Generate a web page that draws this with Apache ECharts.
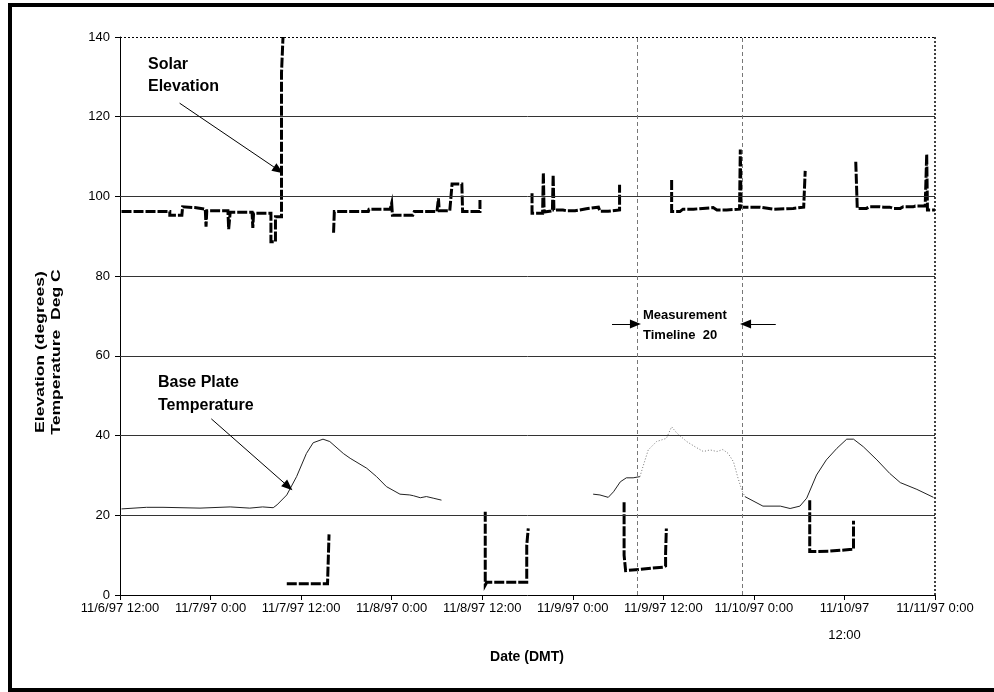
<!DOCTYPE html>
<html>
<head>
<meta charset="utf-8">
<script src="https://cdn.jsdelivr.net/npm/echarts@6/dist/echarts.min.js"></script>
<style>
  html, body { margin: 0; padding: 0; background: #fff; }
  #chart { width: 994px; height: 692px; }
</style>
</head>
<body>
<div id="chart"></div>
<script>
// hours counted from 11/6/97 0:00 (DMT)
var xMin = 12, xMax = 120, xStep = 12;
var yTicks = [20, 40, 60, 80, 100, 120];
var timelineHours = [80.6, 94.4];

// solar elevation, thick stepped trace, one array per unbroken run
var solarA = [[12.2,96.2],[18.6,96.2],[18.6,95.3],[20.2,95.3],[20.3,97.4],[21.9,97.2],[22.1,96.8],[23.3,96.8],[23.4,92.4],[23.5,96.4],[26.3,96.4],[26.4,91.8],[26.6,96.0],[29.5,96.0],[29.6,92.1],[29.7,95.8],[32.0,95.8],[32.0,88.6],[32.6,88.6],[32.6,94.9],[33.4,94.9],[33.4,130.9],[33.6,130.9],[33.6,140]];
var solarB = [[40.3,90.9],[40.4,96.2],[44.9,96.2],[45.0,96.8],[47.8,96.8],[48.0,98.3],[48.1,95.3],[50.8,95.3],[51.0,96.2],[54.0,96.2],[54.2,99.5],[54.3,96.4],[55.7,96.4],[56.0,103.1],[57.3,103.1],[57.4,96.2],[59.7,96.2],[59.7,99.1]];
var solarC = [[66.6,100.8],[66.6,95.8],[68.0,95.8],[68.1,106.0],[68.2,96.1],[69.3,96.4],[69.4,105.4],[69.5,96.6],[70.7,96.6],[71.2,96.4],[72.3,96.4],[72.5,96.9],[73.8,96.9],[74.0,97.3],[75.4,97.3],[75.6,96.3],[76.7,96.3],[76.9,96.6],[78.2,96.6],[78.2,102.9]];
var solarD = [[85.1,104.1],[85.1,96.2],[86.2,96.2],[86.6,96.8],[88.0,96.8],[88.2,97.2],[90.6,97.2],[91.1,96.6],[92.4,96.6],[92.6,96.8],[94.1,96.8],[94.2,111.8],[94.3,97.3],[96.8,97.3],[97.0,96.8],[98.6,96.8],[98.8,97.0],[101.2,97.0],[101.4,97.3],[102.6,97.3],[102.8,106.4]];
var solarE = [[109.5,108.7],[109.7,97.0],[110.9,97.0],[111.3,97.4],[112.7,97.4],[113.2,97.3],[114.0,97.3],[114.5,97.0],[115.4,97.0],[115.8,97.4],[117.1,97.4],[117.4,97.6],[118.7,97.6],[118.9,110.6],[119.0,96.6],[120,96.6]];

// low thick runs near the bottom
var lowA = [[34.1,2.8],[39.5,2.8],[39.6,3.3],[39.7,15.2]];
var lowB = [[60.4,20.9],[60.4,2.5],[60.6,3.2],[65.9,3.2],[65.9,12.5],[66.1,12.5],[66.1,16.7]];
var lowC = [[78.8,23.3],[78.8,10.0],[79.0,10.0],[79.0,6.1],[79.2,6.5],[84.0,7.0],[84.3,7.3],[84.3,10.5],[84.4,10.5],[84.4,16.7]];
var lowD = [[103.4,23.8],[103.4,10.9],[106.0,11.0],[106.2,11.3],[108.0,11.3],[109.2,11.5],[109.2,18.6]];

// base plate temperature
var plateA = [[12.2,21.6],[15.5,22.0],[17.7,22.0],[22.6,21.8],[26.6,22.1],[29.2,21.8],[30.9,22.1],[32.3,21.9],[32.8,22.6],[34.1,25.1],[35.4,29.7],[36.7,35.5],[37.6,38.2],[38.9,39.1],[39.8,38.5],[41.6,35.5],[42.5,34.3],[44.7,31.8],[46.0,29.7],[47.3,27.2],[49.1,25.3],[50.4,25.1],[50.9,24.9],[51.8,24.4],[52.6,24.7],[53.5,24.3],[54.6,23.8]];
var plateB = [[74.7,25.3],[75.6,25.1],[76.7,24.5],[77.4,25.9],[78.3,28.4],[79.1,29.4],[80.0,29.4],[80.9,29.7]];
var plateDotted = [[80.9,29.7],[81.3,32.2],[82.0,36.4],[83.1,38.5],[84.4,39.3],[85.1,42.2],[85.8,40.6],[87.1,38.5],[88.2,37.2],[89.3,36.0],[90.2,36.4],[91.1,36.0],[91.9,36.5],[92.6,35.5],[93.3,33.4],[93.9,29.3],[94.4,26.3],[94.8,24.7]];
var plateC = [[94.8,24.7],[97.2,22.3],[99.5,22.3],[100.8,21.7],[102.1,22.3],[103.0,24.3],[104.3,30.1],[105.6,33.9],[107.0,36.8],[108.3,39.1],[109.2,39.1],[110.5,37.2],[112.3,33.9],[114.0,30.5],[115.4,28.2],[117.6,26.5],[119.8,24.5]];

// annotation arrows [from, to] in data units
var solarArrow = [[19.9,123.4],[33.0,106.6]];
var plateArrow = [[24.1,44.2],[34.3,27.2]];
var timelineArrowL = [[77.2,68.0],[80.3,68.0]];
var timelineArrowR = [[98.9,68.0],[94.9,68.0]];

var narrow = '"Liberation Sans Narrow", "Arial Narrow", "Liberation Sans", sans-serif';
var regular = '"Liberation Sans", Arial, sans-serif';

function xLabel(h){
	var day = 6 + Math.floor(h / 24);
	var hr = h % 24;
	var d = '11/' + day + '/97';
	//the 11/10 noon label wraps in the original
	if (h === 108) return d + '\n\n12:00';
	return d + ' ' + (hr === 0 ? '0:00' : '12:00');
}

function thick(data){
	return { type: 'line', data: data, symbol: 'none', z: 4, silent: true,
		lineStyle: { color: '#000', width: 3, type: [10, 2], cap: 'butt', join: 'miter' } };
}
function thin(data, dotted){
	return { type: 'line', data: data, symbol: 'none', z: 3, silent: true,
		lineStyle: dotted ? { color: '#777', width: 1, type: [1, 2] } : { color: '#222', width: 1 } };
}
function arrow(pair){
	return [
		{ coord: pair[0], symbol: 'none', lineStyle: { color: '#000', width: 1, type: 'solid' } },
		{ coord: pair[1], symbol: 'triangle', symbolSize: [9, 11] }
	];
}

var chart = echarts.init(document.getElementById('chart'), null, { renderer: 'canvas' });

var marks = [];
yTicks.forEach(function(v){
	marks.push({ yAxis: v, lineStyle: { color: '#333', width: 1, type: 'solid' } });
});
marks.push({ yAxis: 140, lineStyle: { color: '#000', width: 1, type: [2, 2] } });
marks.push({ xAxis: xMax, lineStyle: { color: '#000', width: 1.5, type: [2, 2] } });
timelineHours.forEach(function(h){
	marks.push({ xAxis: h, lineStyle: { color: '#777', width: 1, type: [4, 3] } });
});
[solarArrow, plateArrow, timelineArrowL, timelineArrowR].forEach(function(p){ marks.push(arrow(p)); });

var series = [{
	type: 'line', data: [], z: 2, silent: true,
	markLine: { silent: true, animation: false, symbol: 'none', label: { show: false }, data: marks }
}];
[solarA, solarB, solarC, solarD, solarE, lowA, lowB, lowC, lowD].forEach(function(s){ series.push(thick(s)); });
series.push(thin(plateA), thin(plateB), thin(plateC), thin(plateDotted, true));

var option = {
	animation: false,
	backgroundColor: '#fff',
	grid: { left: 120, top: 37, width: 815, height: 558 },
	xAxis: {
		type: 'value', min: xMin, max: xMax, interval: xStep,
		axisLine: { lineStyle: { color: '#000', width: 1 } },
		axisTick: { show: true, length: 5, lineStyle: { color: '#000' } },
		axisLabel: { formatter: xLabel, fontFamily: narrow, fontSize: 13, color: '#000', margin: 7, lineHeight: 13.5, verticalAlign: 'top', showMinLabel: true, showMaxLabel: true },
		splitLine: { show: false }
	},
	yAxis: {
		type: 'value', min: 0, max: 140, interval: 20,
		axisLine: { show: true, lineStyle: { color: '#000', width: 1 } },
		axisTick: { show: true, length: 5, lineStyle: { color: '#000' } },
		axisLabel: { fontFamily: regular, fontSize: 13, color: '#000', margin: 10 },
		splitLine: { show: false }
	},
	graphic: [
		{ type: 'rect', shape: { x: 10, y: 5, width: 1000, height: 685 }, style: { fill: 'none', stroke: '#000', lineWidth: 4 }, silent: true },
		{ type: 'text', x: 148, y: 54, style: { text: 'Solar\nElevation', font: 'bold 16px ' + regular, lineHeight: 22, fill: '#000' } },
		{ type: 'text', x: 158, y: 371, style: { text: 'Base Plate\nTemperature', font: 'bold 16px ' + regular, lineHeight: 23, fill: '#000' } },
		{ type: 'text', x: 643, y: 305, style: { text: 'Measurement\nTimeline  20', font: 'bold 13px ' + regular, lineHeight: 20, fill: '#000' } },
		{ type: 'text', x: 527, y: 657, style: { text: 'Date (DMT)', font: 'bold 14px ' + narrow, fill: '#000', align: 'center', verticalAlign: 'middle' } },
		{ type: 'text', x: 48, y: 352, rotation: Math.PI / 2, scaleX: 1.35,
			style: { text: 'Elevation (degrees)\nTemperature  Deg C', font: 'bold 13px ' + narrow, lineHeight: 16, fill: '#000', align: 'center', verticalAlign: 'middle' } }
	],
	series: series
};
chart.setOption(option);
</script>
</body>
</html>
